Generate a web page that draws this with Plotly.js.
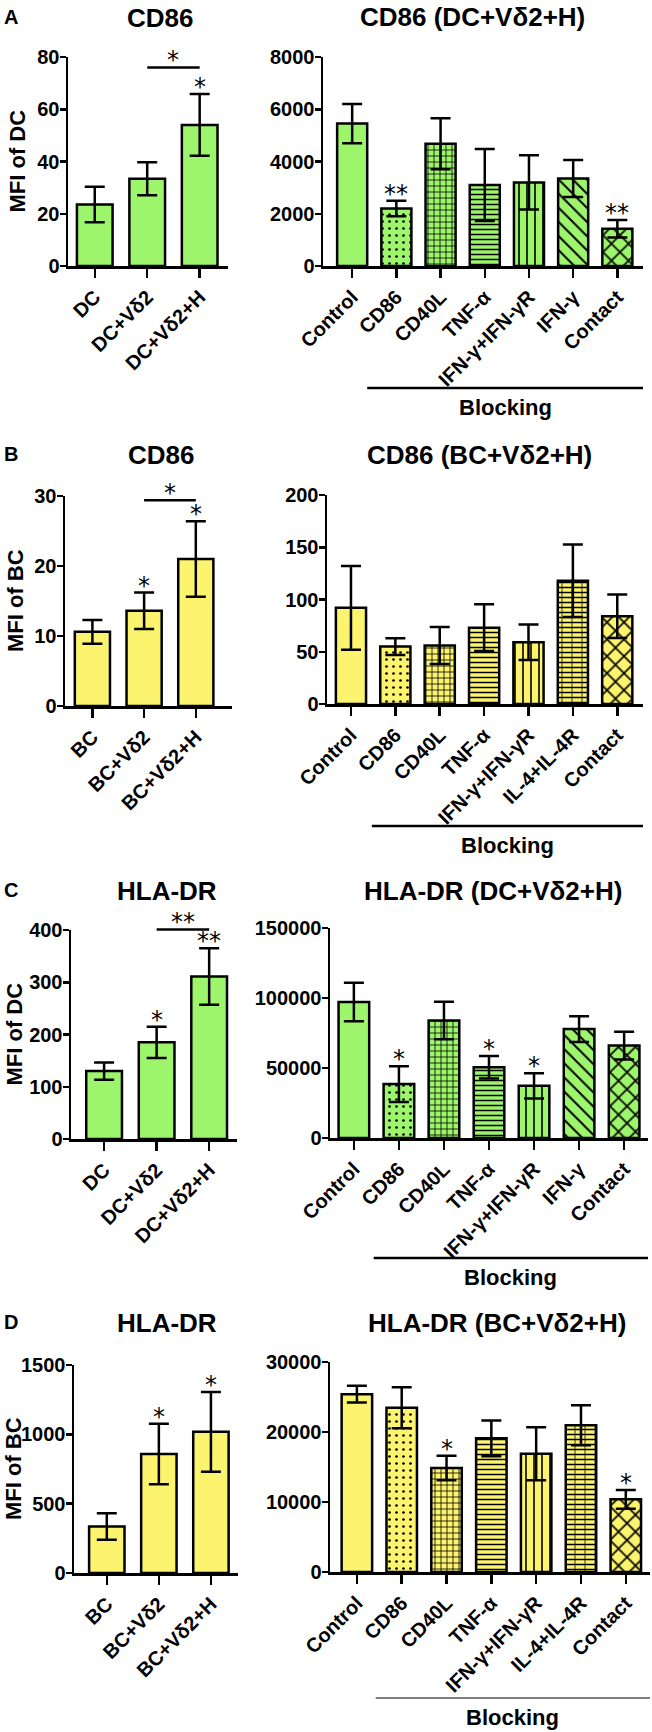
<!DOCTYPE html>
<html>
<head>
<meta charset="utf-8">
<script src="https://cdn.plot.ly/plotly-3.0.1.min.js"></script>
<style>
  html, body { margin: 0; padding: 0; background: #fff; }
  #chart { width: 652px; height: 1732px; }
</style>
</head>
<body>
<div id="chart"></div>
<script>
// categories
const leftCatsDC = ['DC', 'DC+Vδ2', 'DC+Vδ2+H'];
const leftCatsBC = ['BC', 'BC+Vδ2', 'BC+Vδ2+H'];
const blockCatsDC = ['Control', 'CD86', 'CD40L', 'TNF-α', 'IFN-γ+IFN-γR', 'IFN-γ', 'Contact'];
const blockCatsBC = ['Control', 'CD86', 'CD40L', 'TNF-α', 'IFN-γ+IFN-γR', 'IL-4+IL-4R', 'Contact'];

// A: CD86 on DC
const cd86DC = [23.5, 33.4, 54.0];
const cd86DCErr = [6.8, 6.3, 11.8];
const cd86DCStars = ['', '', '*'];
const cd86DCBlock = [5450, 2200, 4680, 3100, 3200, 3350, 1430];
const cd86DCBlockErr = [755, 295, 980, 1375, 1035, 705, 335];
const cd86DCBlockStars = ['', '**', '', '', '', '', '**'];

// B: CD86 on BC
const cd86BC = [10.6, 13.6, 21.0];
const cd86BCErr = [1.7, 2.6, 5.4];
const cd86BCStars = ['', '*', '*'];
const cd86BCBlock = [92, 55, 56, 73, 59, 118, 84];
const cd86BCBlockErr = [40, 8, 17.7, 22.4, 17, 34.7, 20.8];
const cd86BCBlockStars = ['', '', '', '', '', '', ''];

// C: HLA-DR on DC
const hlaDC = [130, 185, 311];
const hlaDCErr = [16.5, 30, 54];
const hlaDCStars = ['', '*', '**'];
const hlaDCBlock = [97100, 38500, 84000, 50500, 37300, 77800, 66000];
const hlaDCBlockErr = [13750, 12700, 13400, 8000, 9000, 9200, 9900];
const hlaDCBlockStars = ['', '*', '', '*', '*', '', ''];

// D: HLA-DR on BC
const hlaBC = [335, 858, 1018];
const hlaBCErr = [95, 218, 288];
const hlaBCStars = ['', '*', '*'];
const hlaBCBlock = [25400, 23450, 14860, 19100, 16900, 20950, 10380];
const hlaBCBlockErr = [1190, 2930, 1740, 2550, 3790, 2860, 1330];
const hlaBCBlockStars = ['', '', '*', '', '', '', '*'];

const green = '#9df56b';
const yellow = '#fcf46e';
const FONT = 'Liberation Sans, Arial, sans-serif';

const patDC = {
  shape: ['', '.', '+', '-', '|', '\\', 'x'],
  size: [8, 7, 6, 5, 8, 10, 12],
  solidity: [0.2, 0.12, 0.25, 0.3, 0.2, 0.2, 0.25]
};
const patBC = {
  shape: ['', '.', '+', '-', '|', '-', 'x'],
  size: [8, 7, 6, 5, 8, 5, 12],
  solidity: [0.2, 0.12, 0.25, 0.3, 0.2, 0.3, 0.25]
};

const W = 652, H = 1732;
const px = x => x / W;
const py = y => 1 - y / H;

const panels = [
  {cats: leftCatsDC, vals: cd86DC, err: cd86DCErr, stars: cd86DCStars, color: green,
   box: [68, 228, 57, 266], xr: [-0.51, 2.54], ymax: 80, dtick: 20,
   title: 'CD86', tpos: [160, 18], letter: 'A', ytitle: 'MFI of DC', ytx: 17,
   bracket: {text: '*', val: 76}},
  {cats: blockCatsDC, vals: cd86DCBlock, err: cd86DCBlockErr, stars: cd86DCBlockStars, color: green,
   box: [323, 643, 57, 266], xr: [-0.66, 6.58], ymax: 8000, dtick: 2000, pat: patDC,
   title: 'CD86 (DC+Vδ2+H)', tpos: [472, 17], block: {y: 388, x0: 0.34}},
  {cats: leftCatsBC, vals: cd86BC, err: cd86BCErr, stars: cd86BCStars, color: yellow,
   box: [65, 232, 496, 706], xr: [-0.53, 2.7], ymax: 30, dtick: 10,
   title: 'CD86', tpos: [161, 455], letter: 'B', ytitle: 'MFI of BC', ytx: 16,
   bracket: {text: '*', val: 29.4}},
  {cats: blockCatsBC, vals: cd86BCBlock, err: cd86BCBlockErr, stars: cd86BCBlockStars, color: yellow,
   box: [327, 643, 495, 704], xr: [-0.54, 6.58], ymax: 200, dtick: 50, pat: patBC, brick: 5,
   title: 'CD86 (BC+Vδ2+H)', tpos: [479, 455], block: {y: 826, x0: 0.47}},
  {cats: leftCatsDC, vals: hlaDC, err: hlaDCErr, stars: hlaDCStars, color: green,
   box: [71, 237, 930, 1139], xr: [-0.63, 2.53], ymax: 400, dtick: 100,
   title: 'HLA-DR', tpos: [167, 891], letter: 'C', ytitle: 'MFI of DC', ytx: 14,
   bracket: {text: '**', val: 401}},
  {cats: blockCatsDC, vals: hlaDCBlock, err: hlaDCBlockErr, stars: hlaDCBlockStars, color: green,
   box: [330, 648, 928, 1138], xr: [-0.53, 6.53], ymax: 150000, dtick: 50000, pat: patDC,
   title: 'HLA-DR (DC+Vδ2+H)', tpos: [493, 891], block: {y: 1258, x0: 0.44}},
  {cats: leftCatsBC, vals: hlaBC, err: hlaBCErr, stars: hlaBCStars, color: yellow,
   box: [74, 238, 1365, 1573], xr: [-0.63, 2.52], ymax: 1500, dtick: 500,
   title: 'HLA-DR', tpos: [167, 1323], letter: 'D', ytitle: 'MFI of BC', ytx: 13},
  {cats: blockCatsBC, vals: hlaBCBlock, err: hlaBCBlockErr, stars: hlaBCBlockStars, color: yellow,
   box: [330, 650, 1362, 1572], xr: [-0.6, 6.54], ymax: 30000, dtick: 10000, pat: patBC, brick: 5,
   title: 'HLA-DR (BC+Vδ2+H)', tpos: [497, 1323], block: {y: 1698, x0: 0.42, thin: true}}
];

const traces = [];
const annotations = [];
const shapes = [];
const layout = {
  width: W, height: H, autosize: false,
  margin: {l: 0, r: 0, t: 0, b: 0},
  paper_bgcolor: '#fff', plot_bgcolor: 'rgba(0,0,0,0)',
  barmode: 'overlay', showlegend: false,
  font: {family: FONT, color: '#000'},
  annotations: annotations, shapes: shapes
};

const starFont = {family: 'DejaVu Sans, sans-serif', size: 24, color: '#000'};

panels.forEach((p, i) => {
  const n = i + 1;
  const xa = n === 1 ? 'x' : 'x' + n;
  const ya = n === 1 ? 'y' : 'y' + n;
  const [bx0, bx1, byTop, byBot] = p.box;
  const toPaperY = v => py(byBot - v / p.ymax * (byBot - byTop));

  const marker = {color: p.color, line: {color: '#000', width: 2.5}};
  if (p.pat) {
    marker.pattern = {shape: p.pat.shape, size: p.pat.size, solidity: p.pat.solidity,
                      fgcolor: '#000', bgcolor: p.color, fillmode: 'replace'};
  }
  traces.push({
    type: 'bar', x: p.cats, y: p.vals, xaxis: xa, yaxis: ya, width: 0.68,
    marker: marker, hoverinfo: 'none',
    error_y: {type: 'data', array: p.err, visible: true, color: '#000', thickness: 2.5, width: 10}
  });
  if (p.brick !== undefined) {
    // brick fill: horizontal lines from the main bar plus vertical joints
    traces.push({
      type: 'bar', x: [p.cats[p.brick]], y: [p.vals[p.brick]], xaxis: xa, yaxis: ya, width: 0.68,
      hoverinfo: 'none',
      marker: {color: 'rgba(0,0,0,0)', line: {width: 0},
               pattern: {shape: '|', size: 10, solidity: 0.15, fgcolor: '#000',
                         bgcolor: 'rgba(0,0,0,0)', fillmode: 'overlay'}}
    });
  }

  layout[n === 1 ? 'xaxis' : 'xaxis' + n] = {
    type: 'category', domain: [px(bx0), px(bx1)], range: p.xr, anchor: ya,
    showline: true, linecolor: '#000', linewidth: 2.5,
    ticks: 'outside', ticklen: 9, tickwidth: 2.5, tickcolor: '#000',
    showgrid: false, zeroline: false, tickangle: -45, fixedrange: true,
    tickfont: {family: FONT, size: 20, color: '#000', weight: 'bold'}
  };
  layout[n === 1 ? 'yaxis' : 'yaxis' + n] = {
    domain: [py(byBot), py(byTop)], range: [0, p.ymax], anchor: xa,
    tick0: 0, dtick: p.dtick, tickformat: 'd',
    showline: true, linecolor: '#000', linewidth: 2.5,
    ticks: 'outside', ticklen: 6, tickwidth: 2.5, tickcolor: '#000',
    showgrid: false, zeroline: false, fixedrange: true, ticklabelstandoff: -4,
    tickfont: {family: FONT, size: 20, color: '#000', weight: 'bold'}
  };

  // significance stars above error bars
  p.stars.forEach((s, k) => {
    if (!s) return;
    annotations.push({xref: xa, yref: ya, x: p.cats[k], y: p.vals[k] + p.err[k],
      text: s, showarrow: false, yanchor: 'bottom', yshift: -9, font: starFont});
  });

  if (p.bracket) {
    const yb = toPaperY(p.bracket.val);
    shapes.push({type: 'line', xref: xa, yref: 'paper', x0: 1, x1: 2, y0: yb, y1: yb,
                 line: {color: '#000', width: 2.5}});
    annotations.push({xref: xa, yref: 'paper', x: 1.5, y: yb, text: p.bracket.text,
      showarrow: false, yanchor: 'bottom', yshift: -9, font: starFont});
  }

  if (p.block) {
    const yl = py(p.block.y);
    shapes.push({type: 'line', xref: xa, yref: 'paper', x0: p.block.x0, x1: p.xr[1], y0: yl, y1: yl,
                 line: {color: p.block.thin ? '#555' : '#000', width: p.block.thin ? 1.5 : 2.5}});
    annotations.push({xref: xa, yref: 'paper', x: (p.block.x0 + p.xr[1]) / 2, y: py(p.block.y + 19),
      text: 'Blocking', showarrow: false, yanchor: 'middle',
      font: {family: FONT, size: 22, color: '#000', weight: 'bold'}});
  }

  annotations.push({xref: 'paper', yref: 'paper', x: px(p.tpos[0]), y: py(p.tpos[1]),
    text: p.title, showarrow: false, xanchor: 'center', yanchor: 'middle',
    font: {family: FONT, size: 26, color: '#000', weight: 'bold'}});

  if (p.letter) {
    annotations.push({xref: 'paper', yref: 'paper', x: px(11), y: py(p.tpos[1] - 1),
      text: p.letter, showarrow: false, xanchor: 'center', yanchor: 'middle',
      font: {family: FONT, size: 20, color: '#000', weight: 'bold'}});
  }
  if (p.ytitle) {
    annotations.push({xref: 'paper', yref: 'paper', x: px(p.ytx), y: py((byTop + byBot) / 2),
      text: p.ytitle, showarrow: false, textangle: -90, xanchor: 'center', yanchor: 'middle',
      font: {family: FONT, size: 22, color: '#000', weight: 'bold'}});
  }
});

Plotly.newPlot('chart', traces, layout, {staticPlot: true, displayModeBar: false});
</script>
</body>
</html>
